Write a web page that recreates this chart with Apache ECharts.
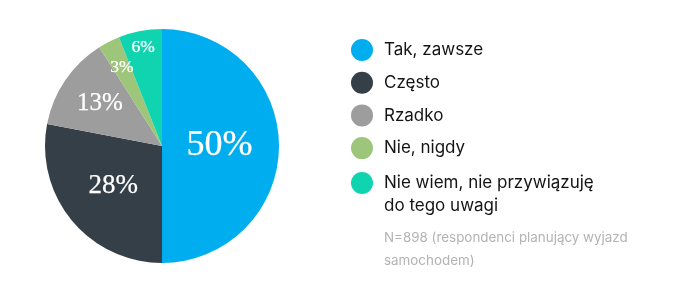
<!DOCTYPE html>
<html><head><meta charset="utf-8">
<script src="https://cdn.jsdelivr.net/npm/echarts@6/dist/echarts.min.js"></script>
<style>html,body{margin:0;padding:0;background:#fff}#c{width:675px;height:295px}</style>
</head><body><div id="c"></div>
<script>
// ---- data ----
const categories = ['Tak, zawsze', 'Często', 'Rzadko', 'Nie, nigdy', 'Nie wiem, nie przywiązuję\ndo tego uwagi'];
const values = [50, 28, 13, 3, 6];
const note = 'N=898 (respondenci planujący wyjazd\nsamochodem)';

// ---- styles ----
const colors = ['#00AEEF', '#343F48', '#9D9D9D', '#9DC67A', '#10D3B0'];
const labelFontSizes = [36, 27, 25, 17.5, 17.5];
const labelRadiusFactors = [0.935, 1.03, 1.22, 1.435, 1.63];
const CX = 162, CY = 146, R = 117;
const uiFont = 'Inter, "Open Sans", sans-serif';

const chart = echarts.init(document.getElementById('c'), null, {renderer: 'canvas'});
const seriesData = categories.map((name, i) => ({
  name, value: values[i],
  itemStyle: {color: colors[i]},
  label: {fontSize: labelFontSizes[i]}
}));

const legendText = {fontFamily: uiFont, fontSize: 17, color: '#141414', lineHeight: 23, padding: [0, 0, 0, 6]};

chart.setOption({
  animation: false,
  title: {
    text: note, left: 384, top: 226, padding: 0,
    textStyle: {fontFamily: uiFont, fontSize: 13.4, fontWeight: 'normal', color: '#b3b3b3', lineHeight: 23}
  },
  legend: [{
    data: categories.slice(0, 4), orient: 'vertical', left: 351, top: 38.5, padding: 0,
    icon: 'circle', itemWidth: 22, itemHeight: 22, itemGap: 9.7,
    textStyle: legendText
  }, {
    data: categories.slice(4), orient: 'vertical', left: 351, top: 148.5, padding: 0,
    icon: 'circle', itemWidth: 22, itemHeight: 22,
    formatter: name => '\n' + name,
    textStyle: legendText
  }],
  series: [{
    type: 'pie',
    center: [CX, CY], radius: R,
    startAngle: 90, clockwise: true,
    data: seriesData,
    label: {
      position: 'inner',
      formatter: p => p.value + '%',
      color: '#fff',
      fontFamily: '"Liberation Serif", "DejaVu Serif", serif',
      fontWeight: 'normal',
      textBorderColor: '#fff', textBorderWidth: 0.25
    },
    labelLine: {show: false},
    labelLayout: function (p) {
      const f = labelRadiusFactors[p.dataIndex];
      const lx = p.labelRect.x + p.labelRect.width / 2;
      const ly = p.labelRect.y + p.labelRect.height / 2;
      return {dx: (lx - CX) * (f - 1), dy: (ly - CY) * (f - 1)};
    },
    emphasis: {disabled: true}
  }]
});
</script></body></html>
